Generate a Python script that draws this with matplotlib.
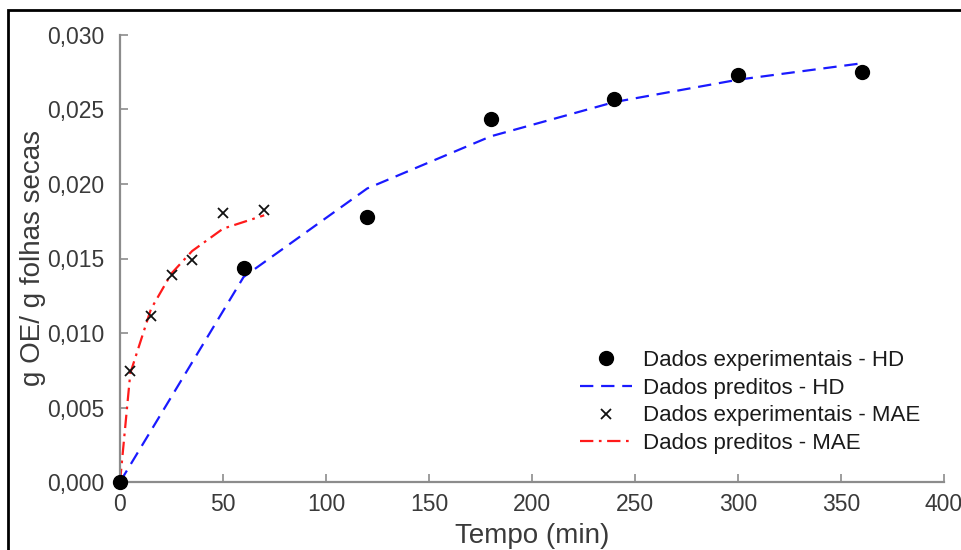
import matplotlib
matplotlib.use("Agg")
import matplotlib.pyplot as plt
from matplotlib.ticker import FuncFormatter
from matplotlib.patches import Rectangle

plt.rcParams['font.family'] = ['Liberation Sans', 'DejaVu Sans']

# Data
t_hd = [0, 60, 120, 180, 240, 300, 360]
y_hd_exp = [0.0, 0.01436, 0.01779, 0.02436, 0.0257, 0.0273, 0.0275]
y_hd_pred = [0.0, 0.01376, 0.0197, 0.0232, 0.0255, 0.0270, 0.0281]

t_mae = [0, 5, 15, 25, 35, 50, 70]
y_mae_exp = [0.0, 0.00745, 0.01114, 0.0139, 0.0149, 0.01805, 0.01825]
y_mae_pred = [0.0, 0.0073, 0.0116, 0.0140, 0.0155, 0.0170, 0.0179]

labels = ["Dados experimentais - HD", "Dados preditos - HD",
          "Dados experimentais - MAE", "Dados preditos - MAE"]
xticks = [0, 50, 100, 150, 200, 250, 300, 350, 400]
yticks = [0.0, 0.005, 0.010, 0.015, 0.020, 0.025, 0.030]

fig = plt.figure(figsize=(9.61, 5.5), dpi=100)
ax = fig.add_axes([120/961, 1-482/550, (944-120)/961, (482-35)/550])

ax.plot(t_hd, y_hd_exp, 'o', color='black', markersize=10, label=labels[0], zorder=6, clip_on=False)
ax.plot(t_hd, y_hd_pred, '--', color='#1a1aff', lw=1.6, dashes=(6, 3.5), label=labels[1], zorder=3)
ax.plot(t_mae, y_mae_exp, 'x', color='#111111', markersize=7.5, mew=1.3, label=labels[2], zorder=4)
ax.plot(t_mae, y_mae_pred, '-.', color='#ff1a1a', lw=1.6, dashes=(6, 2.5, 1.2, 2.5), label=labels[3], zorder=3)

ax.set_xlim(0, 400)
ax.set_ylim(0, 0.030)
ax.set_xticks(xticks)
ax.set_yticks(yticks)
ax.yaxis.set_major_formatter(FuncFormatter(lambda v, p: f"{v:.3f}".replace('.', ',')))
ax.xaxis.set_major_formatter(FuncFormatter(lambda v, p: f"{v:g}"))

for s in ['top', 'right']:
    ax.spines[s].set_visible(False)
for s in ['left', 'bottom']:
    ax.spines[s].set_color('#8c8c8c')
    ax.spines[s].set_linewidth(1.6)
ax.spines['left'].set_zorder(5)
ax.tick_params(direction='in', length=6, width=1.2, color='#8c8c8c',
               labelsize=16.5, labelcolor='#3a3a3a')
ax.tick_params(axis='y', pad=11)
ax.tick_params(axis='x', pad=8)

ax.set_xlabel("Tempo (min)", fontsize=20, color='#3a3a3a', labelpad=5)
ax.set_ylabel("g OE/ g folhas secas", fontsize=20, color='#3a3a3a', labelpad=1)

leg = ax.legend(loc='upper left', bbox_to_anchor=(0.548, 0.315), frameon=False,
                fontsize=16, handlelength=2.3, handletextpad=0.5,
                labelspacing=0.3, borderaxespad=0)
for t in leg.get_texts():
    t.set_color('#1a1a1a')

# outer frame
fig.patches.append(Rectangle((8/961, -0.1), 1.2, 1 - 10/550 + 0.1, transform=fig.transFigure,
                             fill=False, edgecolor='black', linewidth=2, zorder=10))

fig.savefig("out.png", dpi=100)
